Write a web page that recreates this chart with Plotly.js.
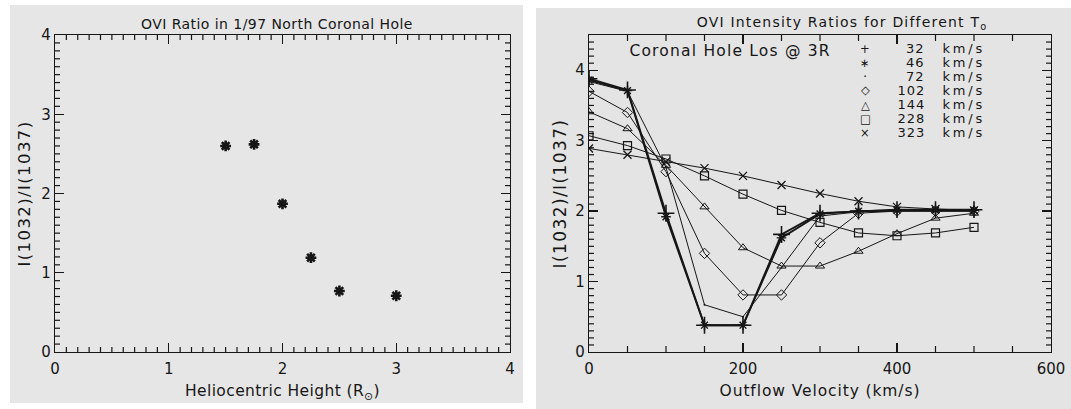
<!DOCTYPE html>
<html>
<head>
<meta charset="utf-8">
<script src="https://cdn.plot.ly/plotly-3.0.1.min.js"></script>
<style>
  html, body { margin: 0; padding: 0; background: #ffffff; }
  #chart { width: 1071px; height: 409px; }
</style>
</head>
<body>
<div id="chart"></div>
<script>
// Left panel: measured OVI 1032/1037 ratio against heliocentric height
const heightRsun = [1.5, 1.75, 2.0, 2.25, 2.5, 3.0];
const ratioObserved = [2.60, 2.62, 1.87, 1.19, 0.77, 0.71];

// Right panel: model ratios against outflow velocity, one curve per line width
const outflowVel = [0, 50, 100, 150, 200, 250, 300, 350, 400, 450, 500];
const widthLabels = ['32', '46', '72', '102', '144', '228', '323'];
const ratio32  = [3.88, 3.72, 1.97, 0.38, 0.38, 1.67, 1.97, 2.00, 2.02, 2.02, 2.02];
const ratio46  = [3.86, 3.71, 1.92, 0.38, 0.38, 1.62, 1.96, 2.00, 2.01, 2.01, 2.01];
const ratio72  = [3.84, 3.70, 2.62, 0.67, 0.50, 1.20, 1.93, 1.99, 2.00, 2.00, 2.00];
const ratio102 = [3.70, 3.40, 2.56, 1.40, 0.81, 0.81, 1.55, 1.97, 2.00, 2.00, 2.00];
const ratio144 = [3.41, 3.17, 2.65, 2.06, 1.48, 1.22, 1.22, 1.43, 1.68, 1.90, 1.97];
const ratio228 = [3.07, 2.93, 2.74, 2.50, 2.24, 2.01, 1.84, 1.69, 1.65, 1.69, 1.77];
const ratio323 = [2.89, 2.80, 2.70, 2.61, 2.50, 2.37, 2.25, 2.14, 2.06, 2.03, 2.01];
const legendGlyphs = ['+', '\u2217', '\u00b7', '\u25c7', '\u25b3', '\u25a1', '\u00d7'];

const W = 1071, H = 409;
const INK = '#161616';
const FONT = 'DejaVu Sans, sans-serif';
const px = v => v / W;
const py = v => 1 - v / H;

const curves = [
  { y: ratio32,  symbol: 'cross-thin-open',  size: 12, lw: 1.8, mlw: 1.6 },
  { y: ratio46,  symbol: 'asterisk-open',    size: 8,  lw: 1.8, mlw: 1.4 },
  { y: ratio72,  symbol: 'circle',           size: 2,  lw: 1.0, mlw: 0 },
  { y: ratio102, symbol: 'diamond-open',     size: 8,  lw: 1.0, mlw: 1.0 },
  { y: ratio144, symbol: 'triangle-up-open', size: 8,  lw: 1.0, mlw: 1.0 },
  { y: ratio228, symbol: 'square-open',      size: 8,  lw: 1.0, mlw: 1.2 },
  { y: ratio323, symbol: 'x-thin-open',      size: 8,  lw: 1.0, mlw: 1.3 }
];

const traces = [{
  x: heightRsun, y: ratioObserved, type: 'scatter', mode: 'markers',
  xaxis: 'x', yaxis: 'y', showlegend: false, hoverinfo: 'x+y',
  marker: { symbol: 'asterisk-open', size: 9, color: INK, line: { color: INK, width: 2.6 } }
}];
curves.forEach((c, i) => {
  traces.push({
    x: outflowVel, y: c.y, type: 'scatter', mode: 'lines+markers',
    xaxis: 'x2', yaxis: 'y2', showlegend: false, name: widthLabels[i] + ' km/s',
    line: { color: INK, width: c.lw },
    marker: { symbol: c.symbol, size: c.size, color: INK, line: { color: INK, width: c.mlw } }
  });
});

// Framed axis with long inside ticks on all four sides
function frameAxis(extra) {
  return Object.assign({
    showgrid: false, zeroline: false, showline: true, linecolor: INK, linewidth: 1.3,
    mirror: 'ticks', ticks: 'inside', ticklen: 9, tickwidth: 1.3, tickcolor: INK,
    tickmode: 'linear', tick0: 0,
    tickfont: { family: FONT, size: 15, color: INK },
    fixedrange: true
  }, extra);
}

// Short minor tick marks on both edges of an axis, stepped through its range
function minorTicks(axLetter, axId, otherId, range, major, minor, len) {
  const out = [];
  const n = Math.round((range[1] - range[0]) / minor);
  for (let k = 1; k < n; k++) {
    const v = range[0] + k * minor;
    if (Math.abs(v / major - Math.round(v / major)) < 1e-6) continue;
    [[0, len], [1, -len]].forEach(([edge, d]) => {
      const s = { type: 'line', layer: 'above', line: { color: INK, width: 1.2 } };
      if (axLetter === 'x') {
        Object.assign(s, { xref: axId, yref: otherId + ' domain', x0: v, x1: v,
          ysizemode: 'pixel', yanchor: edge, y0: 0, y1: d });
      } else {
        Object.assign(s, { yref: axId, xref: otherId + ' domain', y0: v, y1: v,
          xsizemode: 'pixel', xanchor: edge, x0: 0, x1: d });
      }
      out.push(s);
    });
  }
  return out;
}

// [annotation, letter spacing in px]
const labelled = [
  [{ text: 'OVI Ratio in 1/97 North Coronal Hole', x: px(277), y: py(24),
     xanchor: 'center', font: { family: FONT, size: 14, color: INK } }, 0.45],
  [{ text: 'OVI Intensity Ratios for Different T<sub>o</sub>', x: px(842), y: py(23),
     xanchor: 'center', font: { family: FONT, size: 14, color: INK } }, 1.2],
  [{ text: 'Coronal Hole Los @ 3R', x: px(640), y: py(51),
     xanchor: 'left', font: { family: FONT, size: 15.5, color: INK } }, 1.2]
];
widthLabels.forEach((lab, i) => {
  const yy = py(48.5 + 14 * i);
  labelled.push([{ text: legendGlyphs[i], x: px(865), y: yy, xanchor: 'center',
    font: { family: FONT, size: i === 2 ? 13 : 11.5, color: INK } }, 0]);
  labelled.push([{ text: lab, x: px(925.5), y: yy, xanchor: 'right',
    font: { family: FONT, size: 13, color: INK } }, 1.0]);
  labelled.push([{ text: 'km/s', x: px(946), y: yy, xanchor: 'left',
    font: { family: FONT, size: 13, color: INK } }, 2.8]);
});
const annotations = labelled.map(([a]) => Object.assign(
  { xref: 'paper', yref: 'paper', showarrow: false, yanchor: 'middle' }, a));

const xDomL = [px(55), px(510)], xDomR = [px(589), px(1051)], yDom = [py(352), py(35)];
const rangeL = [0, 4], rangeVel = [0, 600], rangeR = [0, 4.5];

const layout = {
  width: W, height: H,
  margin: { l: 0, r: 0, t: 0, b: 0 },
  paper_bgcolor: '#ffffff',
  plot_bgcolor: 'rgba(0,0,0,0)',
  showlegend: false,
  shapes: [
    { type: 'rect', xref: 'paper', yref: 'paper', layer: 'below',
      x0: px(10), x1: px(523), y0: py(403), y1: py(5),
      fillcolor: '#e6e6e6', line: { width: 0 } },
    { type: 'rect', xref: 'paper', yref: 'paper', layer: 'below',
      x0: px(536), x1: 1, y0: 0, y1: py(8),
      fillcolor: '#e4e4e4', line: { width: 0 } }
  ].concat(
    minorTicks('x', 'x', 'y', rangeL, 1, 0.1, 5),
    minorTicks('y', 'y', 'x', rangeL, 1, 0.1, 5),
    minorTicks('x', 'x2', 'y2', rangeVel, 200, 50, 6),
    minorTicks('y', 'y2', 'x2', rangeR, 1, 0.1, 5)
  ),
  xaxis: frameAxis({
    domain: xDomL, range: rangeL, dtick: 1, anchor: 'y', ticklabelstandoff: 3,
    title: { text: 'Heliocentric Height (R<sub>\u2299</sub>)', standoff: 8,
             font: { family: FONT, size: 15.5, color: INK } }
  }),
  yaxis: frameAxis({
    domain: yDom, range: rangeL, dtick: 1, anchor: 'x',
    title: { text: 'I(1032)/I(1037)', standoff: 6,
             font: { family: FONT, size: 16.5, color: INK } }
  }),
  xaxis2: frameAxis({
    domain: xDomR, range: rangeVel, dtick: 200, anchor: 'y2', ticklabelstandoff: 3,
    title: { text: 'Outflow Velocity (km/s)', standoff: 8,
             font: { family: FONT, size: 15.5, color: INK } }
  }),
  yaxis2: frameAxis({
    domain: yDom, range: rangeR, dtick: 1, anchor: 'x2',
    title: { text: 'I(1032)/I(1037)', standoff: 4,
             font: { family: FONT, size: 17, color: INK } }
  }),
  annotations: annotations
};

// Widen the lettering so it reads like a plotter's stroke font
function spreadLetters() {
  const root = document.getElementById('chart');
  labelled.forEach(([, sp], i) => {
    if (!sp) return;
    root.querySelectorAll('.annotation[data-index="' + i + '"] .annotation-text')
      .forEach(t => { t.style.letterSpacing = sp + 'px'; });
  });
  const set = (sel, sp) => root.querySelectorAll(sel).forEach(t => { t.style.letterSpacing = sp; });
  set('.g-xtitle text', '0.4px');
  set('.g-x2title text', '0.9px');
  set('.g-ytitle text, .g-y2title text', '1.4px');
}

Plotly.newPlot('chart', traces, layout, { displayModeBar: false, staticPlot: true })
  .then(spreadLetters);
</script>
</body>
</html>
